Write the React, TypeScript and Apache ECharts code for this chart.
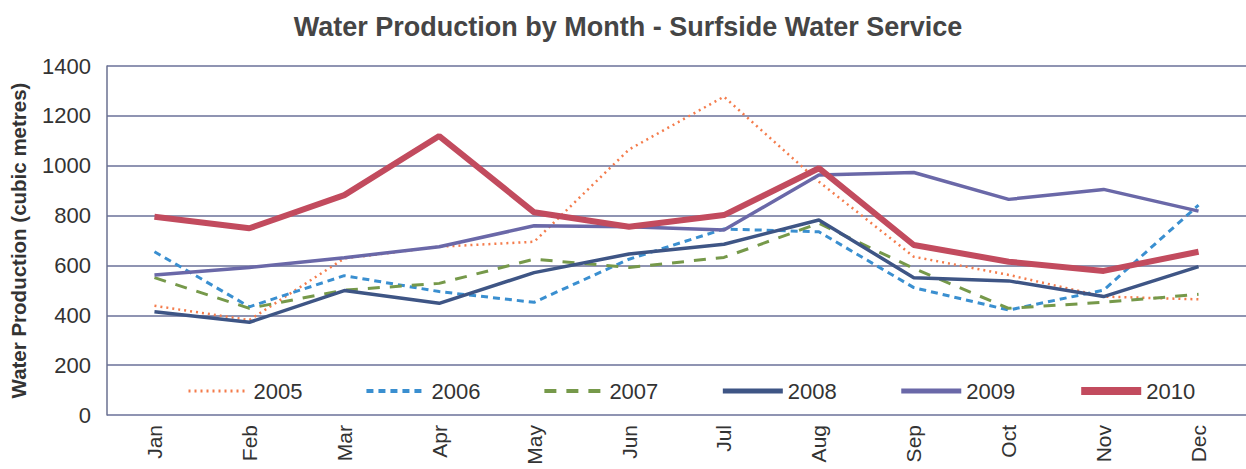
import React, { useEffect, useRef } from "react";
import * as echarts from "echarts";

const months = ["Jan", "Feb", "Mar", "Apr", "May", "Jun", "Jul", "Aug", "Sep", "Oct", "Nov", "Dec"];
const yTicks = [0, 200, 400, 600, 800, 1000, 1200, 1400];
const years = ["2005", "2006", "2007", "2008", "2009", "2010"];

const s2005 = [438, 381, 628, 675, 695, 1065, 1277, 936, 635, 562, 475, 464];
const s2006 = [655, 434, 559, 495, 452, 625, 746, 735, 511, 421, 501, 842];
const s2007 = [551, 428, 501, 528, 625, 592, 632, 769, 588, 428, 452, 484];
const s2008 = [414, 372, 499, 448, 571, 646, 685, 782, 551, 538, 475, 595];
const s2009 = [562, 592, 631, 675, 759, 755, 742, 963, 973, 865, 905, 818];
const s2010 = [795, 749, 882, 1119, 813, 755, 802, 990, 682, 615, 578, 655];

export default function App() {
  const ref = useRef<HTMLDivElement>(null);
  useEffect(() => {
    document.body.style.margin = "0";
    const chart = echarts.init(ref.current!, null, { renderer: "svg" });
    const font = "Liberation Sans, Arial, sans-serif";
    const styles: Record<string, { color: string; width: number; type: any; legendW: number }> = {
      "2005": { color: "#f47c4c", width: 2.5, type: [2, 4], legendW: 3 },
      "2006": { color: "#3a8fd0", width: 3, type: [7, 5], legendW: 4 },
      "2007": { color: "#76994a", width: 3, type: [12, 10], legendW: 4 },
      "2008": { color: "#3e5585", width: 3.5, type: "solid", legendW: 5 },
      "2009": { color: "#6a68a8", width: 3.5, type: "solid", legendW: 5 },
      "2010": { color: "#c24b5e", width: 6, type: "solid", legendW: 8 },
    };
    const dataMap: Record<string, number[]> = {
      "2005": s2005, "2006": s2006, "2007": s2007, "2008": s2008, "2009": s2009, "2010": s2010,
    };
    chart.setOption({
      animation: false,
      backgroundColor: "#ffffff",
      title: {
        text: "Water Production by Month - Surfside Water Service",
        left: 623,
        textAlign: "center",
        top: 8,
        textStyle: { fontFamily: font, fontSize: 27, fontWeight: "bold", color: "#454545" },
      },
      legend: {
        data: years.map((y) => ({
          name: y,
          lineStyle: { width: styles[y].legendW, type: styles[y].type, color: styles[y].color },
        })),
        left: 182,
        top: 375,
        itemWidth: 60,
        itemHeight: 14,
        itemGap: 62,
        itemStyle: { opacity: 0 },
        textStyle: { fontFamily: font, fontSize: 22, color: "#333333" },
      },
      grid: { left: 107, top: 66, width: 1145, height: 349 },
      xAxis: {
        type: "category",
        data: months,
        boundaryGap: true,
        axisLine: { show: false },
        axisTick: { show: false },
        axisLabel: { rotate: 90, fontFamily: font, fontSize: 21, color: "#333333", margin: 10 },
      },
      yAxis: {
        type: "value",
        min: yTicks[0],
        max: yTicks[yTicks.length - 1],
        interval: 200,
        name: "Water Production (cubic metres)",
        nameLocation: "middle",
        nameGap: 78,
        nameTextStyle: { fontFamily: font, fontSize: 20.5, fontWeight: "bold", color: "#333333" },
        axisLine: { show: true, lineStyle: { color: "#6a7090", width: 1.5 } },
        axisTick: { show: false },
        axisLabel: { fontFamily: font, fontSize: 22, color: "#333333", margin: 16, formatter: (v: number) => String(v) },
        splitLine: { show: true, lineStyle: { color: "#6a7098", width: 1.5 } },
      },
      series: years.map((y, i) => ({
        name: y,
        type: "line",
        data: dataMap[y],
        symbol: "none",
        z: 2 + i,
        lineStyle: { color: styles[y].color, width: styles[y].width, type: styles[y].type, cap: "butt" },
        itemStyle: { color: styles[y].color },
      })),
    });
    return () => chart.dispose();
  }, []);
  return <div ref={ref} style={{ width: 1246, height: 469 }} />;
}
